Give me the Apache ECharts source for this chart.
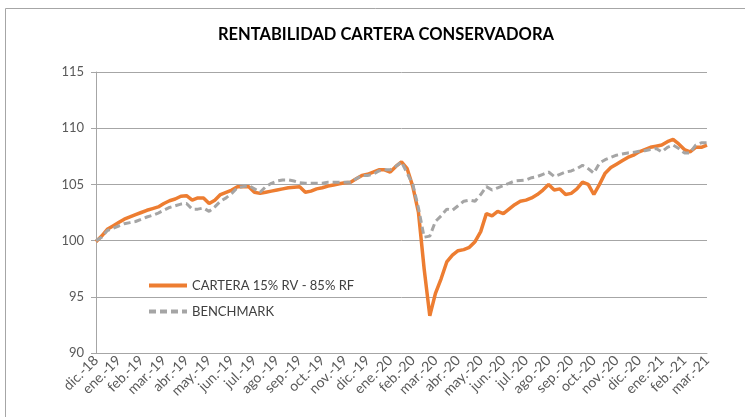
<!DOCTYPE html>
<html>
<head>
<meta charset="utf-8">
<script src="https://cdn.jsdelivr.net/npm/echarts@6/dist/echarts.min.js"></script>
<style>html,body{margin:0;padding:0;background:#fff}#c{width:745px;height:417px}</style>
</head>
<body>
<div id="c"></div>
<script>
// Month tick labels (x axis)
var months = ["dic.-18","ene.-19","feb.-19","mar.-19","abr.-19","may.-19","jun.-19","jul.-19","ago.-19","sep.-19","oct.-19","nov.-19","dic.-19","ene.-20","feb.-20","mar.-20","abr.-20","may.-20","jun.-20","jul.-20","ago.-20","sep.-20","oct.-20","nov.-20","dic.-20","ene.-21","feb.-21","mar.-21"];
// Series names
var seriesNames = ["CARTERA 15% RV - 85% RF", "BENCHMARK"];
// Weekly values (4 per month)
var cartera = [99.9,100.4,101.0,101.3,101.6,101.9,102.1,102.3,102.5,102.7,102.85,103.0,103.3,103.55,103.7,103.95,
104.0,103.6,103.8,103.8,103.3,103.6,104.1,104.3,104.5,104.8,104.8,104.8,104.3,104.2,104.3,104.4,
104.5,104.6,104.7,104.75,104.8,104.3,104.4,104.6,104.7,104.85,104.95,105.05,105.15,105.2,105.5,105.8,
105.9,106.1,106.3,106.3,106.1,106.6,107.0,106.4,104.8,102.5,97.5,93.3,95.3,96.6,98.1,98.7,
99.1,99.2,99.4,99.9,100.8,102.4,102.2,102.6,102.4,102.8,103.2,103.5,103.6,103.8,104.1,104.5,
105.0,104.5,104.6,104.1,104.2,104.6,105.2,105.0,104.1,105.0,106.0,106.5,106.8,107.1,107.4,107.6,
107.9,108.1,108.3,108.4,108.5,108.8,109.0,108.6,108.1,107.9,108.3,108.3,108.5];
var benchmark = [100.0,100.3,100.9,101.1,101.3,101.5,101.6,101.7,101.9,102.1,102.25,102.45,102.7,102.95,103.1,103.25,
103.3,102.8,102.8,102.9,102.6,103.0,103.5,103.8,104.2,104.7,104.8,104.9,104.6,104.3,104.8,105.1,
105.3,105.4,105.4,105.3,105.15,105.1,105.1,105.1,105.1,105.2,105.2,105.2,105.2,105.2,105.5,105.8,
105.8,105.9,106.2,106.3,106.3,106.6,107.0,106.0,105.0,102.9,100.3,100.4,101.7,102.2,102.8,102.7,
103.1,103.5,103.6,103.5,104.1,104.8,104.5,104.7,104.9,105.1,105.3,105.35,105.4,105.6,105.7,105.9,
106.1,105.7,105.9,106.1,106.2,106.4,106.7,106.4,106.0,106.9,107.2,107.4,107.6,107.7,107.8,107.85,
107.95,108.0,108.1,108.2,107.9,108.3,108.5,108.2,107.8,107.8,108.5,108.7,108.7];

var categories = [];
months.forEach(function(m, k){
  categories.push(m);
  if (k < months.length - 1) { categories.push(m + "|2", m + "|3", m + "|4"); }
});

var FONT = "Lato, 'Open Sans', sans-serif";
var chart = echarts.init(document.getElementById('c'), null, {renderer: 'canvas'});
chart.setOption({
  animation: false,
  backgroundColor: '#ffffff',
  title: {
    text: 'RENTABILIDAD CARTERA CONSERVADORA',
    left: 213, top: 21,
    textStyle: {fontFamily: FONT, fontSize: 16.5, fontWeight: 'bold', color: '#000000'}
  },
  graphic: [{
    type: 'rect', silent: true,
    shape: {x: 5.5, y: 8.5, width: 760, height: 430},
    style: {fill: 'none', stroke: '#a6a6a6', lineWidth: 1}
  }],
  legend: {
    orient: 'vertical', left: 142, top: 274,
    itemWidth: 38, itemHeight: 12, itemGap: 13,
    itemStyle: {opacity: 0},
    lineStyle: {width: 4},
    textStyle: {fontFamily: FONT, fontSize: 13, color: '#404040'},
    data: seriesNames
  },
  grid: {left: 96, right: 38, top: 72, bottom: 64, containLabel: false},
  xAxis: {
    type: 'category', data: categories, boundaryGap: false,
    axisLine: {lineStyle: {color: '#a6a6a6', width: 1}},
    axisTick: {show: false},
    axisLabel: {
      interval: 3, rotate: 45, margin: 5,
      fontFamily: FONT, fontSize: 14, color: '#595959',
      formatter: function(v){ return v.split('|')[0]; }
    },
    splitLine: {show: false}
  },
  yAxis: {
    type: 'value', min: 90, max: 115, interval: 5,
    axisLine: {show: true, lineStyle: {color: '#a6a6a6', width: 1}},
    axisTick: {show: true, length: 5, lineStyle: {color: '#a6a6a6'}},
    axisLabel: {fontFamily: FONT, fontSize: 13, color: '#595959', margin: 12},
    splitLine: {show: true, lineStyle: {color: '#a6a6a6', width: 1}}
  },
  series: [
    {
      name: seriesNames[0], type: 'line', data: cartera,
      symbol: 'none', smooth: false,
      lineStyle: {color: '#ED7D31', width: 3.5},
      itemStyle: {color: '#ED7D31'}
    },
    {
      name: seriesNames[1], type: 'line', data: benchmark,
      symbol: 'none', smooth: false,
      lineStyle: {color: '#A5A5A5', width: 3, type: [7, 4]},
      itemStyle: {color: '#A5A5A5'}
    }
  ]
});
</script>
</body>
</html>
